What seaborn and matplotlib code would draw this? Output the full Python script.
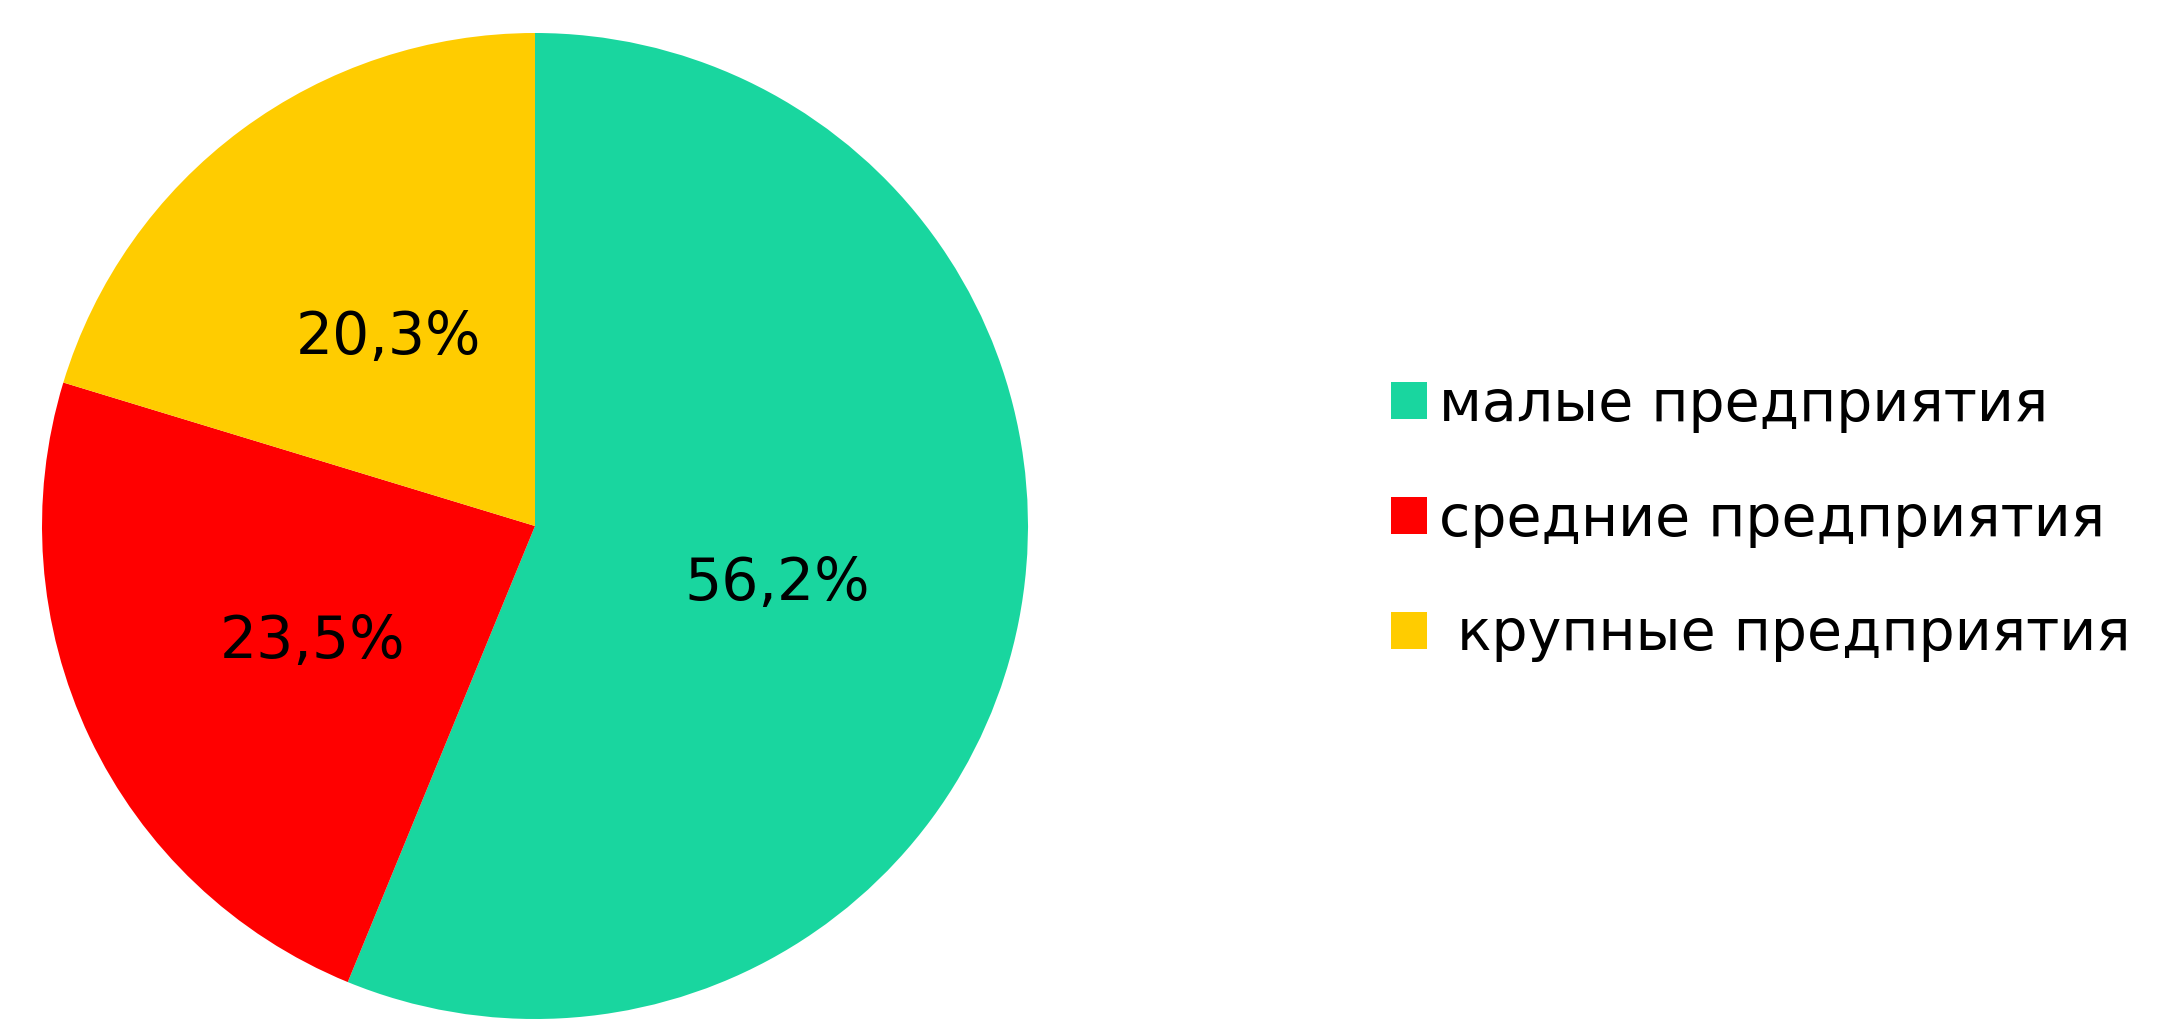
import matplotlib
matplotlib.use("Agg")
import matplotlib.pyplot as plt
import seaborn as sns
import numpy as np
from matplotlib.patches import Patch

sns.set_theme(style="white")
plt.rcParams['font.family'] = ['DejaVu Sans']

# Data
categories = ['малые предприятия', 'средние предприятия', ' крупные предприятия']
shares = [56.2, 23.5, 20.3]
pct_labels = ['56,2%', '23,5%', '20,3%']
colors = ['#19D69F', '#FF0000', '#FFCC00']

fig = plt.figure(figsize=(21.6, 10.36), dpi=100)
fig.patch.set_facecolor('white')

# pie area: centre ~(535, 526) px, radius ~493 px
ax = fig.add_axes([42 / 2160, 17 / 1036, 986 / 2160, 986 / 1036])
wedges, _ = ax.pie(shares, colors=colors, startangle=90, counterclock=False,
                   radius=1.0, wedgeprops=dict(linewidth=0))
ax.set_xlim(-1, 1)
ax.set_ylim(-1, 1)
ax.set_aspect('equal')
ax.axis('off')

# percentage labels at half radius
for w, lab in zip(wedges, pct_labels):
    mid = np.deg2rad((w.theta1 + w.theta2) / 2)
    ax.text(0.5 * np.cos(mid), 0.5 * np.sin(mid) - 0.02, lab, ha='center', va='center',
            fontsize=42, color='black')

handles = [Patch(facecolor=c, edgecolor='none') for c in colors]
leg = fig.legend(handles, categories, loc='center left',
                 bbox_to_anchor=(1340 / 2160, 516 / 1036), frameon=False,
                 fontsize=41, handlelength=0.63, handleheight=0.63,
                 handletextpad=0.2, labelspacing=1.05, labelcolor='black')

fig.savefig('out.png', dpi=100, facecolor='white')
